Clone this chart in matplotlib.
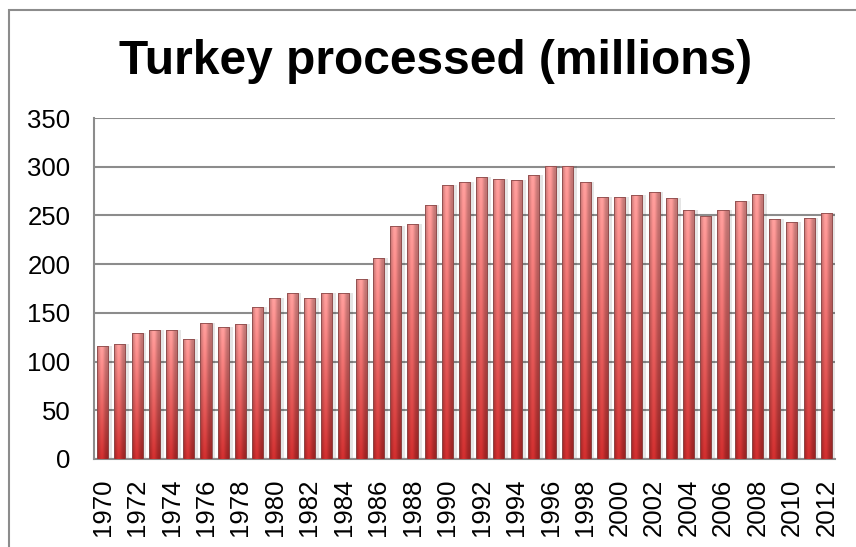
import numpy as np
import matplotlib.pyplot as plt
from matplotlib.patches import Rectangle

# data
years = list(range(1970, 2013))
turkeys = [115.5, 118.5, 129, 132, 132, 123.5, 139.5, 135, 138.5, 155.5,
           165, 170, 165, 170, 170, 184.5, 206, 239, 241, 261,
           281, 284.5, 289.5, 287.5, 286.5, 291.5, 301, 301, 284.5, 268.5,
           268.5, 271, 274, 267.5, 255.5, 249.5, 255.5, 265, 272, 246.5,
           243.5, 247.5, 252.5]
yticks = [0, 50, 100, 150, 200, 250, 300, 350]

plt.rcParams['font.family'] = ['Liberation Sans', 'DejaVu Sans']

fig = plt.figure(figsize=(8.56, 5.47), dpi=100)
ax = fig.add_axes([94 / 856, 1 - 459 / 547, 741 / 856, 341 / 547])

x = np.arange(len(years))
width = 0.64

# gradient used to fill every bar (rows: bottom -> top, cols: left -> right)
top = np.array([244, 150, 148]) / 255
bottom = np.array([196, 44, 44]) / 255
v = np.linspace(0, 1, 64)[:, None, None]
base = bottom + (top - bottom) * v
u = np.linspace(0, 1, 32)
shade = 0.78 + 0.3 * np.exp(-((u - 0.4) / 0.28) ** 2)
grad = np.clip(base * shade[None, :, None], 0, 1)

# soft shadow to the right of each bar
ax.bar(x + 0.22, turkeys, width=width, color='#000000', alpha=0.10,
       linewidth=0, zorder=2)
bars = ax.bar(x, turkeys, width=width, color='none', edgecolor='#8a4a4a',
              linewidth=0.6, zorder=4)
for b in bars:
    x0, y0 = b.get_x(), b.get_y()
    im = ax.imshow(grad, extent=(x0, x0 + b.get_width(), y0, y0 + b.get_height()),
                   origin='lower', aspect='auto', zorder=3, interpolation='bilinear')
    im.set_clip_path(b)

ax.set_xlim(-0.5, len(years) - 0.5)
ax.set_ylim(0, 350)
ax.set_yticks(yticks)
ax.set_xticks(x[::2])
ax.set_xticklabels([str(y) for y in years[::2]], rotation=90)
ax.tick_params(axis='both', length=0, labelsize=18.5)
ax.tick_params(axis='y', pad=17)
ax.tick_params(axis='x', pad=14)

ax.grid(axis='y', color='#8c8c8c', linewidth=1.5, zorder=1)
ax.set_axisbelow(True)
for s in ['top', 'right']:
    ax.spines[s].set_visible(False)
for s in ['left', 'bottom']:
    ax.spines[s].set_color('#8c8c8c')
    ax.spines[s].set_linewidth(1.5)

fig.text(436 / 856, 1 - 61 / 547, 'Turkey processed (millions)', ha='center',
         va='center', fontsize=34.5, fontweight='bold')

# chart border
fig.patches.append(Rectangle((9 / 856, -0.05), 1.1, 1 - 10 / 547 + 0.05,
                             transform=fig.transFigure, fill=False,
                             edgecolor='#8c8c8c', linewidth=1.5))

fig.savefig('out.png', dpi=100)
